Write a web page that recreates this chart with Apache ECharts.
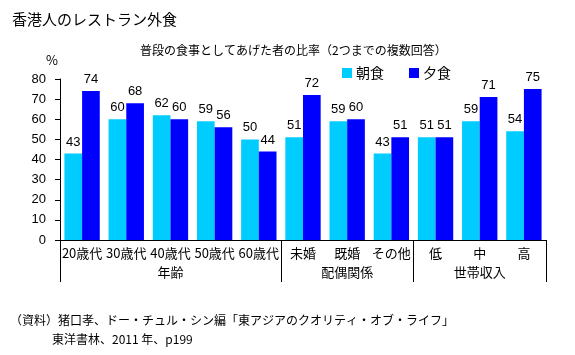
<!DOCTYPE html>
<html>
<head>
<meta charset="utf-8">
<script src="https://cdn.jsdelivr.net/npm/echarts@6/dist/echarts.min.js"></script>
<style>
html,body{margin:0;padding:0;background:#fff;}
#chart{width:575px;height:355px;}
</style>
</head>
<body>
<div id="chart"></div>
<script>
const categories = ['20歳代','30歳代','40歳代','50歳代','60歳代','未婚','既婚','その他','低','中','高'];
const groupNames = ['年齢','配偶関係','世帯収入'];
const groupSizes = [5, 3, 3];
const breakfast = [43, 60, 62, 59, 50, 51, 59, 43, 51, 59, 54];
const dinner = [74, 68, 60, 56, 44, 72, 60, 51, 51, 71, 75];
const seriesNames = ['朝食', '夕食'];
const yTicks = [0, 10, 20, 30, 40, 50, 60, 70, 80];

const FONT = '"Noto Sans CJK JP", "Noto Sans", sans-serif';

// group boundary indices and group label rows
const boundaries = [];
const groupRow = new Array(categories.length).fill('');
let start = 0;
groupSizes.forEach((n, g) => {
  boundaries.push(start);
  groupRow[start + Math.floor(n / 2)] = groupNames[g];
  start += n;
});

const chart = echarts.init(document.getElementById('chart'), null, {renderer: 'canvas'});
chart.setOption({
  animation: false,
  backgroundColor: '#ffffff',
  textStyle: {fontFamily: FONT},
  title: [
    {text: '香港人のレストラン外食', left: 12, top: 12, padding: 0,
     textStyle: {fontSize: 15, fontWeight: 'normal', color: '#000', lineHeight: 15, fontFamily: FONT}},
    {text: '普段の食事としてあげた者の比率（2つまでの複数回答）', left: 140, top: 44, padding: 0,
     textStyle: {fontSize: 12, fontWeight: 'normal', color: '#000', lineHeight: 12, fontFamily: FONT}},
    {text: '（資料）猪口孝、ドー・チュル・シン編「東アジアのクオリティ・オブ・ライフ」', left: 10, top: 314, padding: 0,
     textStyle: {fontSize: 12, fontWeight: 'normal', color: '#000', lineHeight: 12, fontFamily: FONT}},
    {text: '東洋書林、2011 年、p199', left: 52, top: 333, padding: 0,
     textStyle: {fontSize: 12, fontWeight: 'normal', color: '#000', lineHeight: 12, fontFamily: FONT}}
  ],
  legend: {
    data: seriesNames,
    left: 342, top: 66, padding: 0,
    icon: 'rect', itemWidth: 10, itemHeight: 10, itemGap: 25,
    textStyle: {fontSize: 14, color: '#000', fontFamily: FONT, padding: [0, 0, 0, -1]}
  },
  grid: {left: 60, right: 29, top: 79, bottom: 115, containLabel: false},
  xAxis: [
    {
      type: 'category', data: categories, position: 'bottom',
      axisLine: {show: true, lineStyle: {color: '#000', width: 1}},
      axisTick: {show: true, length: 42, lineStyle: {color: '#000', width: 1},
        interval: (i) => boundaries.indexOf(i) >= 0},
      axisLabel: {interval: 0, margin: 7, fontSize: 13, color: '#000', fontFamily: FONT},
      splitLine: {show: false}
    },
    {
      type: 'category', data: groupRow, position: 'bottom', gridIndex: 0,
      axisLine: {show: false}, axisTick: {show: false},
      axisLabel: {interval: (i) => groupRow[i] !== '', margin: 26, fontSize: 13, color: '#000', fontFamily: FONT},
      splitLine: {show: false}
    }
  ],
  yAxis: {
    type: 'value', min: yTicks[0], max: yTicks[yTicks.length - 1], interval: yTicks[1] - yTicks[0],
    name: '%', nameLocation: 'end', nameGap: 12,
    nameTextStyle: {fontSize: 13, color: '#000', padding: [0, 16, 0, 0], fontFamily: FONT},
    axisLine: {show: true, lineStyle: {color: '#000', width: 1}},
    axisTick: {show: true, length: 5, lineStyle: {color: '#000'}},
    axisLabel: {fontSize: 13, color: '#000', margin: 14, fontFamily: '"Liberation Sans", Arial, sans-serif'},
    splitLine: {show: false}
  },
  series: [
    {
      name: seriesNames[0], type: 'bar', data: breakfast, xAxisIndex: 0,
      itemStyle: {color: '#00CCFF'}, barGap: '0%', barCategoryGap: '20%',
      label: {show: true, position: 'top', distance: 5, fontSize: 13, color: '#000',
        fontFamily: '"Liberation Sans", Arial, sans-serif'}
    },
    {
      name: seriesNames[1], type: 'bar', data: dinner, xAxisIndex: 0,
      itemStyle: {color: '#0000FF'}, barGap: '0%', barCategoryGap: '20%',
      label: {show: true, position: 'top', distance: 5, fontSize: 13, color: '#000',
        fontFamily: '"Liberation Sans", Arial, sans-serif'}
    }
  ]
});
</script>
</body>
</html>
